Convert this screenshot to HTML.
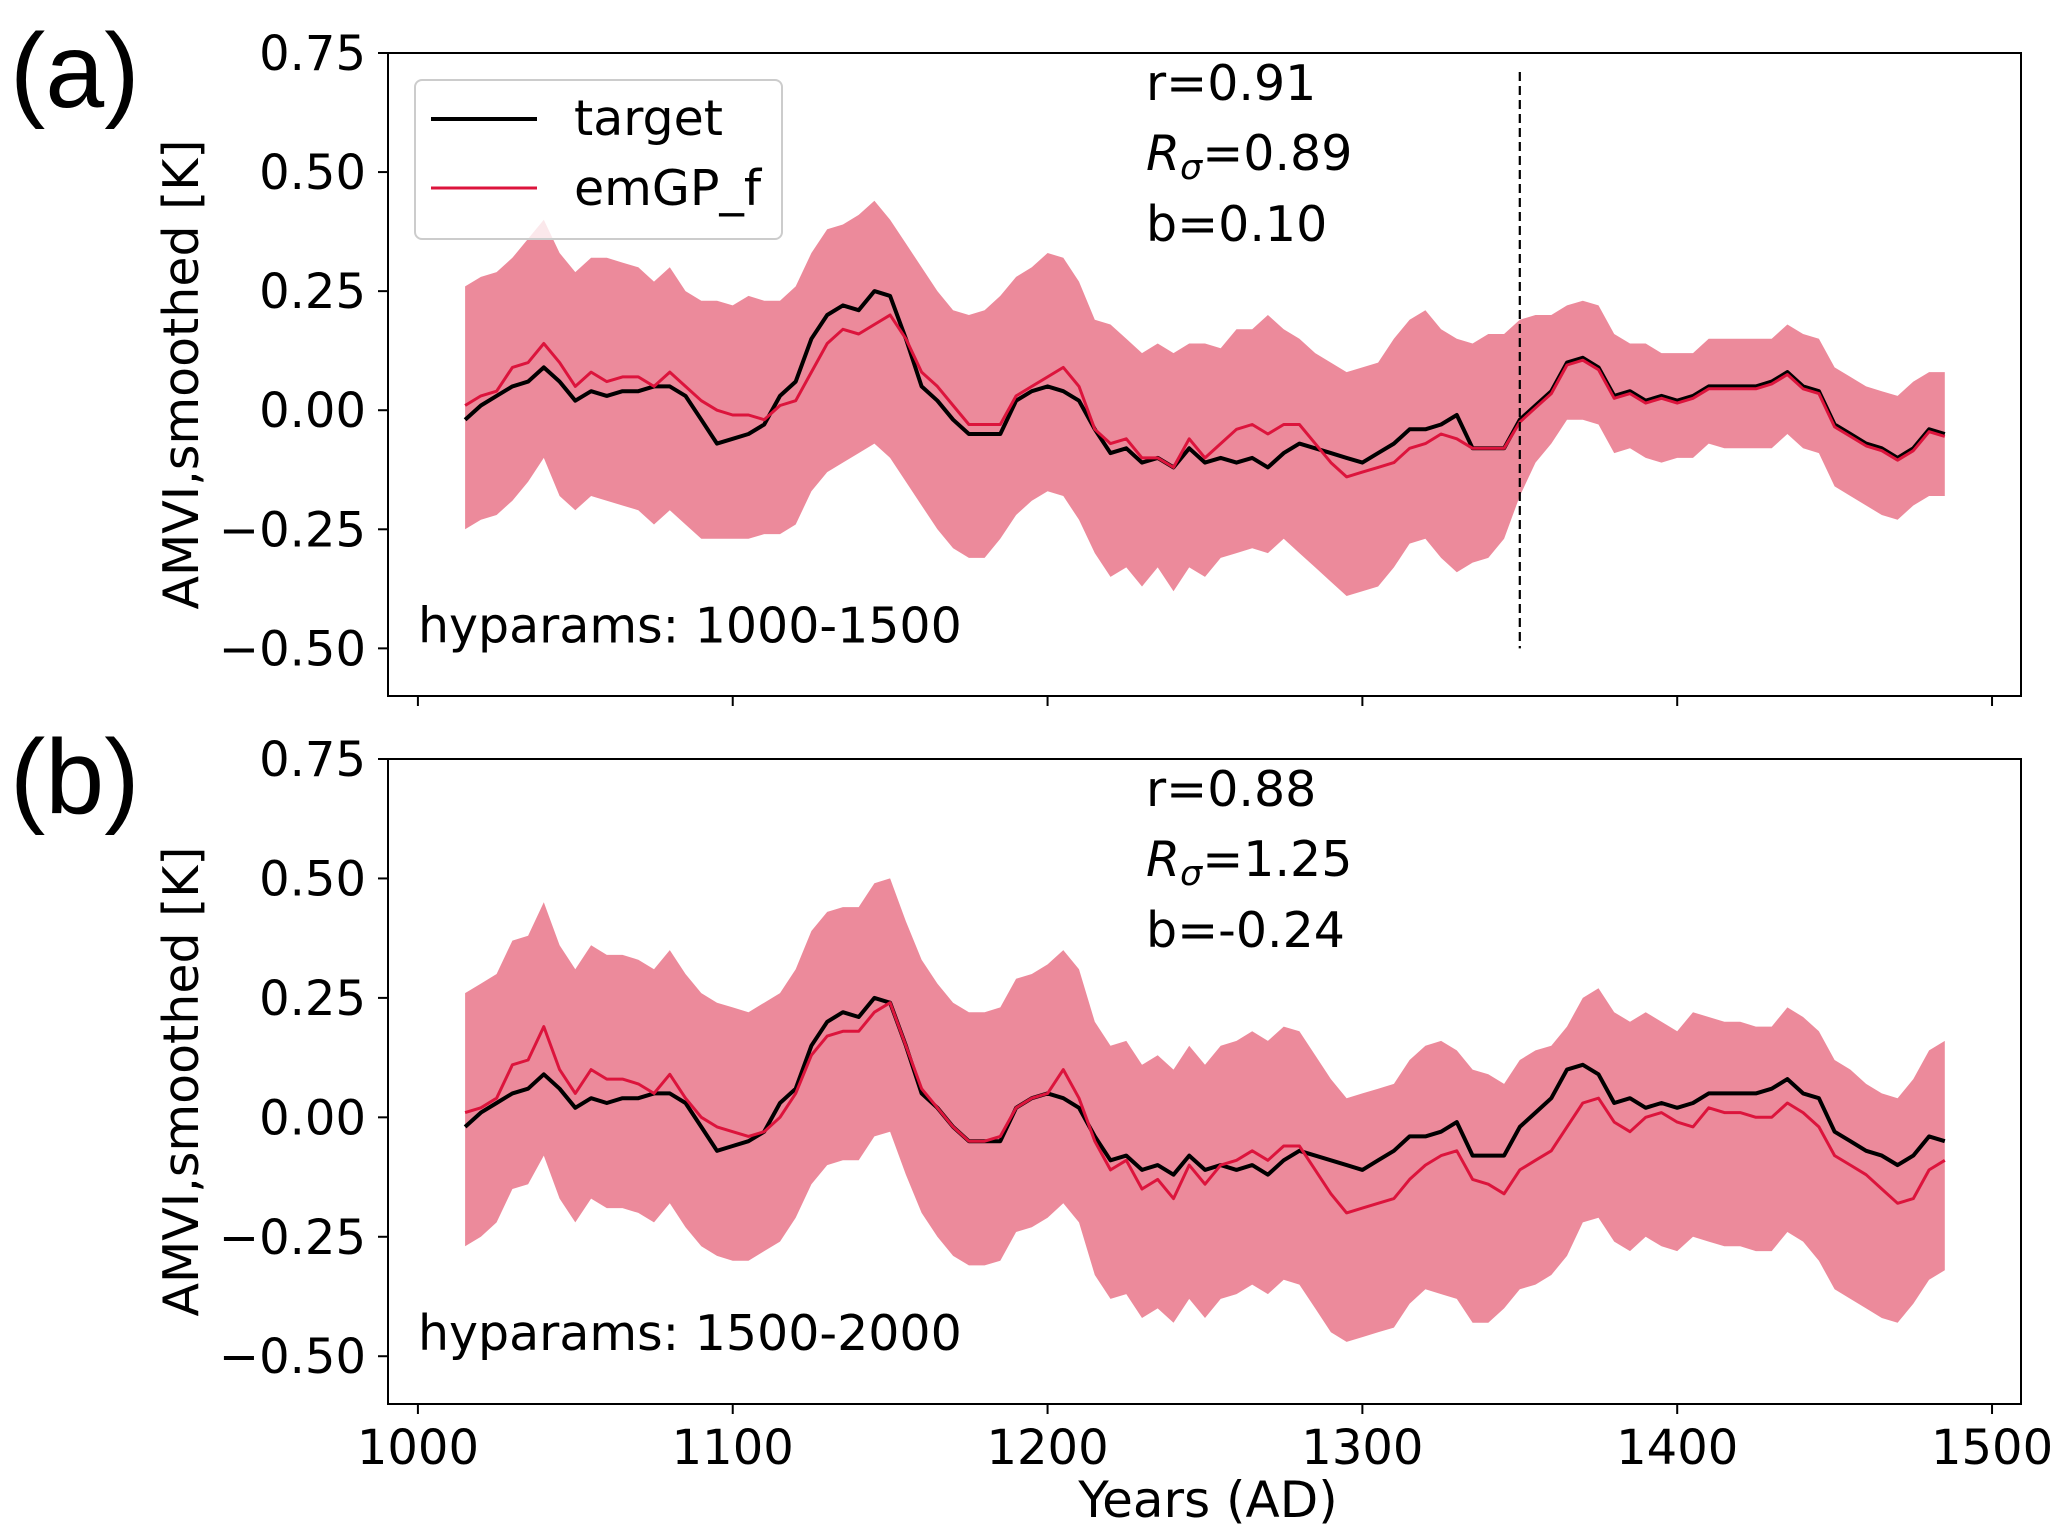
<!DOCTYPE html>
<html><head><meta charset="utf-8"><style>
html,body{margin:0;padding:0;background:#fff;}
svg{display:block;}
text{font-family:"DejaVu Sans","Liberation Sans",sans-serif;fill:#000;}
</style></head><body>
<svg id="chart" width="2067" height="1537" viewBox="0 0 2067 1537" xmlns="http://www.w3.org/2000/svg"></svg>
<script>
const years = [];
for (let y = 1015; y <= 1485; y += 5) years.push(y);
const yTicks = [0.75, 0.50, 0.25, 0.00, -0.25, -0.50];
const yTickLabels = ["0.75","0.50","0.25","0.00","\u22120.25","\u22120.50"];
const xTicks = [1000, 1100, 1200, 1300, 1400, 1500];
const xTickLabels = ["1000","1100","1200","1300","1400","1500"];
const target = [-0.02,0.01,0.03,0.05,0.06,0.09,0.06,0.02,0.04,0.03,0.04,0.04,0.05,0.05,0.03,-0.02,-0.07,-0.06,-0.05,-0.03,0.03,0.06,0.15,0.20,0.22,0.21,0.25,0.24,0.15,0.05,0.02,-0.02,-0.05,-0.05,-0.05,0.02,0.04,0.05,0.04,0.02,-0.04,-0.09,-0.08,-0.11,-0.10,-0.12,-0.08,-0.11,-0.10,-0.11,-0.10,-0.12,-0.09,-0.07,-0.08,-0.09,-0.10,-0.11,-0.09,-0.07,-0.04,-0.04,-0.03,-0.01,-0.08,-0.08,-0.08,-0.02,0.01,0.04,0.10,0.11,0.09,0.03,0.04,0.02,0.03,0.02,0.03,0.05,0.05,0.05,0.05,0.06,0.08,0.05,0.04,-0.03,-0.05,-0.07,-0.08,-0.10,-0.08,-0.04,-0.05];
const emgpA = [0.01,0.03,0.04,0.09,0.10,0.14,0.10,0.05,0.08,0.06,0.07,0.07,0.05,0.08,0.05,0.02,0.00,-0.01,-0.01,-0.02,0.01,0.02,0.08,0.14,0.17,0.16,0.18,0.20,0.15,0.08,0.05,0.01,-0.03,-0.03,-0.03,0.03,0.05,0.07,0.09,0.05,-0.04,-0.07,-0.06,-0.10,-0.10,-0.12,-0.06,-0.10,-0.07,-0.04,-0.03,-0.05,-0.03,-0.03,-0.07,-0.11,-0.14,-0.13,-0.12,-0.11,-0.08,-0.07,-0.05,-0.06,-0.08,-0.08,-0.08,-0.025,0.005,0.035,0.095,0.105,0.085,0.025,0.035,0.015,0.025,0.015,0.025,0.045,0.045,0.045,0.045,0.055,0.075,0.045,0.035,-0.035,-0.055,-0.075,-0.085,-0.105,-0.085,-0.045,-0.055];
const upperA = [0.26,0.28,0.29,0.32,0.36,0.40,0.33,0.29,0.32,0.32,0.31,0.30,0.27,0.30,0.25,0.23,0.23,0.22,0.24,0.23,0.23,0.26,0.33,0.38,0.39,0.41,0.44,0.40,0.35,0.30,0.25,0.21,0.20,0.21,0.24,0.28,0.30,0.33,0.32,0.27,0.19,0.18,0.15,0.12,0.14,0.12,0.14,0.14,0.13,0.17,0.17,0.20,0.17,0.15,0.12,0.10,0.08,0.09,0.10,0.15,0.19,0.21,0.17,0.15,0.14,0.16,0.16,0.19,0.20,0.20,0.22,0.23,0.22,0.16,0.14,0.14,0.12,0.12,0.12,0.15,0.15,0.15,0.15,0.15,0.18,0.16,0.15,0.09,0.07,0.05,0.04,0.03,0.06,0.08,0.08];
const lowerA = [-0.25,-0.23,-0.22,-0.19,-0.15,-0.10,-0.18,-0.21,-0.18,-0.19,-0.20,-0.21,-0.24,-0.21,-0.24,-0.27,-0.27,-0.27,-0.27,-0.26,-0.26,-0.24,-0.17,-0.13,-0.11,-0.09,-0.07,-0.10,-0.15,-0.20,-0.25,-0.29,-0.31,-0.31,-0.27,-0.22,-0.19,-0.17,-0.18,-0.23,-0.30,-0.35,-0.33,-0.37,-0.33,-0.38,-0.33,-0.35,-0.31,-0.30,-0.29,-0.30,-0.27,-0.30,-0.33,-0.36,-0.39,-0.38,-0.37,-0.33,-0.28,-0.27,-0.31,-0.34,-0.32,-0.31,-0.27,-0.18,-0.11,-0.07,-0.02,-0.02,-0.03,-0.09,-0.08,-0.10,-0.11,-0.10,-0.10,-0.07,-0.08,-0.08,-0.08,-0.08,-0.05,-0.08,-0.09,-0.16,-0.18,-0.20,-0.22,-0.23,-0.20,-0.18,-0.18];
const emgpB = [0.01,0.02,0.04,0.11,0.12,0.19,0.10,0.05,0.10,0.08,0.08,0.07,0.05,0.09,0.04,0.00,-0.02,-0.03,-0.04,-0.03,0.00,0.05,0.13,0.17,0.18,0.18,0.22,0.24,0.15,0.06,0.02,-0.02,-0.05,-0.05,-0.04,0.02,0.04,0.05,0.10,0.04,-0.05,-0.11,-0.09,-0.15,-0.13,-0.17,-0.10,-0.14,-0.10,-0.09,-0.07,-0.09,-0.06,-0.06,-0.11,-0.16,-0.20,-0.19,-0.18,-0.17,-0.13,-0.10,-0.08,-0.07,-0.13,-0.14,-0.16,-0.11,-0.09,-0.07,-0.02,0.03,0.04,-0.01,-0.03,0.00,0.01,-0.01,-0.02,0.02,0.01,0.01,0.00,0.00,0.03,0.01,-0.02,-0.08,-0.10,-0.12,-0.15,-0.18,-0.17,-0.11,-0.09];
const upperB = [0.26,0.28,0.30,0.37,0.38,0.45,0.36,0.31,0.36,0.34,0.34,0.33,0.31,0.35,0.30,0.26,0.24,0.23,0.22,0.24,0.26,0.31,0.39,0.43,0.44,0.44,0.49,0.50,0.41,0.33,0.28,0.24,0.22,0.22,0.23,0.29,0.30,0.32,0.35,0.31,0.20,0.15,0.16,0.11,0.13,0.10,0.15,0.11,0.15,0.16,0.18,0.16,0.19,0.18,0.13,0.08,0.04,0.05,0.06,0.07,0.12,0.15,0.16,0.14,0.10,0.09,0.07,0.12,0.14,0.15,0.19,0.25,0.27,0.22,0.20,0.22,0.20,0.18,0.22,0.21,0.20,0.20,0.19,0.19,0.23,0.21,0.18,0.12,0.10,0.07,0.05,0.04,0.08,0.14,0.16];
const lowerB = [-0.27,-0.25,-0.22,-0.15,-0.14,-0.08,-0.17,-0.22,-0.17,-0.19,-0.19,-0.20,-0.22,-0.18,-0.23,-0.27,-0.29,-0.30,-0.30,-0.28,-0.26,-0.21,-0.14,-0.10,-0.09,-0.09,-0.04,-0.03,-0.12,-0.20,-0.25,-0.29,-0.31,-0.31,-0.30,-0.24,-0.23,-0.21,-0.18,-0.22,-0.33,-0.38,-0.37,-0.42,-0.40,-0.43,-0.38,-0.42,-0.38,-0.37,-0.35,-0.37,-0.34,-0.35,-0.40,-0.45,-0.47,-0.46,-0.45,-0.44,-0.39,-0.36,-0.37,-0.38,-0.43,-0.43,-0.40,-0.36,-0.35,-0.33,-0.29,-0.22,-0.21,-0.26,-0.28,-0.25,-0.27,-0.28,-0.25,-0.26,-0.27,-0.27,-0.28,-0.28,-0.24,-0.26,-0.30,-0.36,-0.38,-0.40,-0.42,-0.43,-0.39,-0.34,-0.32];

const NS = "http://www.w3.org/2000/svg";
const svg = document.getElementById("chart");
function mk(tag, attrs, parent) {
  const e = document.createElementNS(NS, tag);
  for (const k in attrs) e.setAttribute(k, attrs[k]);
  (parent || svg).appendChild(e);
  return e;
}
const L = 388, R = 2021;
const X0 = 990.5, X1 = 1509.2;
function xs(v) { return L + (v - X0) / (X1 - X0) * (R - L); }

function panel(top, bottom, emgp, upper, lower, label, stats, hyp, showXLabels, dashed) {
  const g = mk("g", {});
  
  
  const Y0 = -0.6, Y1 = 0.75;
  const ys = v => bottom - (v - Y0) / (Y1 - Y0) * (bottom - top);
  let d = "";
  years.forEach((yr, i) => { d += (i ? "L" : "M") + xs(yr).toFixed(1) + "," + ys(upper[i]).toFixed(1); });
  for (let i = years.length - 1; i >= 0; i--) d += "L" + xs(years[i]).toFixed(1) + "," + ys(lower[i]).toFixed(1);
  const band = mk("path", {d: d + "Z", fill: "#ec8a9b", stroke: "none"}, g);
  
  
  const line = (arr, col, w, nm) => {
    const p = mk("path", {d: arr.map((v, i) => (i ? "L" : "M") + xs(years[i]).toFixed(1) + "," + ys(v).toFixed(1)).join(""), fill: "none", stroke: col, "stroke-width": w, "stroke-linejoin": "round"}, g);
    
    
  };
  line(target, "#000", 4, "target-line");
  line(emgp, "#dc143c", 3, "emgp-line");
  if (dashed) {
    const dl = mk("line", {x1: xs(1350), x2: xs(1350), y1: ys(0.71), y2: ys(-0.5), stroke: "#000", "stroke-width": 2.2, "stroke-dasharray": "9,5"}, g);
    
    
  }
  const frame = mk("rect", {x: L, y: top, width: R - L, height: bottom - top, fill: "none", stroke: "#000", "stroke-width": 2}, g);
  
  
  yTicks.forEach((t, i) => {
    const y = ys(t);
    mk("line", {x1: L - 10, x2: L, y1: y, y2: y, stroke: "#000", "stroke-width": 2}, g);
    const tx = mk("text", {x: L - 22, y: y + 17, "text-anchor": "end", "font-size": 48}, g);
    tx.textContent = yTickLabels[i];
    
    
  });
  xTicks.forEach((t, i) => {
    const x = xs(t);
    mk("line", {x1: x, x2: x, y1: bottom, y2: bottom + 10, stroke: "#000", "stroke-width": 2}, g);
    if (showXLabels) {
      const tx = mk("text", {x: x, y: bottom + 60, "text-anchor": "middle", "font-size": 48}, g);
      tx.textContent = xTickLabels[i];
      
      
    }
  });
  const yl = mk("text", {x: 0, y: 0, "text-anchor": "middle", "font-size": 49, transform: "translate(198," + ((top + bottom) / 2) + ") rotate(-90)"}, g);
  yl.textContent = "AMVI,smoothed [K]";
  
  
  const pl = mk("text", {x: 10, y: top + 54, "font-size": 106, style: "font-family:'Liberation Sans',sans-serif"}, g);
  pl.textContent = "(" + label + ")";
  
  
  const s1 = mk("text", {x: 1146, y: top + 47, "font-size": 49}, g);
  s1.textContent = stats[0];
  
  
  const s2 = mk("text", {x: 1146, y: top + 117, "font-size": 49}, g);
  s2.innerHTML = '<tspan font-style="italic">R</tspan><tspan font-style="italic" font-size="35" dy="9">σ</tspan><tspan dy="-9">' + stats[1] + '</tspan>';
  
  
  const s3 = mk("text", {x: 1146, y: top + 188, "font-size": 49}, g);
  s3.textContent = stats[2];
  
  
  const h = mk("text", {x: 418, y: ys(-0.5) - 6, "font-size": 49}, g);
  h.textContent = hyp;
  
  
}
panel(53, 696, emgpA, upperA, lowerA, "a", ["r=0.91", "=0.89", "b=0.10"], "hyparams: 1000-1500", false, true);
panel(759, 1404, emgpB, upperB, lowerB, "b", ["r=0.88", "=1.25", "b=-0.24"], "hyparams: 1500-2000", true, false);

const lg = mk("g", {});


mk("rect", {x: 415, y: 80, width: 367, height: 159, rx: 7, fill: "rgba(255,255,255,0.8)", stroke: "#ccc", "stroke-width": 2}, lg);
mk("line", {x1: 431, x2: 537, y1: 119, y2: 119, stroke: "#000", "stroke-width": 4}, lg);
mk("line", {x1: 431, x2: 537, y1: 188, y2: 188, stroke: "#dc143c", "stroke-width": 3}, lg);
const lt1 = mk("text", {x: 574, y: 135, "font-size": 49}, lg);
lt1.textContent = "target";


const lt2 = mk("text", {x: 574, y: 205, "font-size": 49}, lg);
lt2.textContent = "emGP_f";



const xt = mk("text", {x: 1208, y: 1517, "text-anchor": "middle", "font-size": 50});
xt.textContent = "Years (AD)";


</script>
</body></html>
